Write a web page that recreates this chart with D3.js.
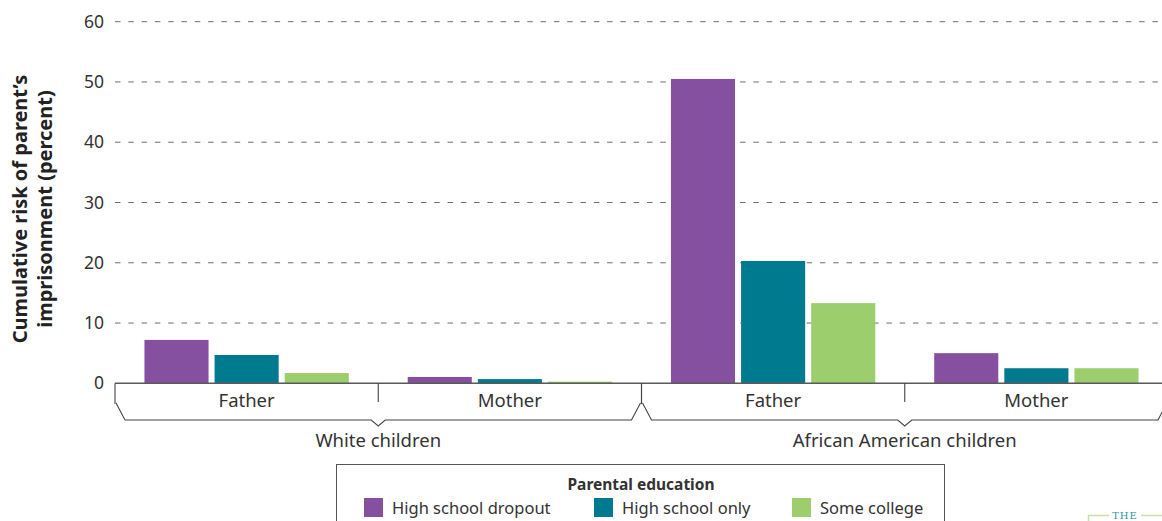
<!DOCTYPE html>
<html>
<head>
<meta charset="utf-8">
<script src="https://cdn.jsdelivr.net/npm/d3@7"></script>
<style>
  html, body { margin: 0; padding: 0; background: #fff; }
  svg { display: block; font-family: "Noto Sans", "Open Sans", sans-serif; }
</style>
</head>
<body>
<svg id="chart" width="1162" height="521"></svg>
<script>
// ---- Data ----
const groups = ["White children", "African American children"];
const parents = ["Father", "Mother"];
const seriesNames = ["High school dropout", "High school only", "Some college"];
const seriesColors = ["#8650a0", "#007a8f", "#9dce6e"];
// values per group -> parent -> series
const whiteFather = [7.2, 4.7, 1.7];
const whiteMother = [1.05, 0.7, 0.27];
const aaFather = [50.5, 20.3, 13.3];
const aaMother = [5.0, 2.5, 2.5];
const yTicks = [0, 10, 20, 30, 40, 50, 60];
const yTitleLines = ["Cumulative risk of parent\u2019s", "imprisonment (percent)"];
const legendTitle = "Parental education";

const dataTable = [
  { group: groups[0], parent: parents[0], values: whiteFather },
  { group: groups[0], parent: parents[1], values: whiteMother },
  { group: groups[1], parent: parents[0], values: aaFather },
  { group: groups[1], parent: parents[1], values: aaMother }
];

// ---- Layout ----
const svg = d3.select("#chart");
const left = 115, right = 1168, baseY = 383.3, topY = 21.7;

const x0 = d3.scaleBand().domain(groups).range([left, right]).padding(0);
const x1 = d3.scaleBand().domain(parents).range([0, x0.bandwidth()]).padding(0);
const x2 = d3.scaleBand().domain(seriesNames).range([0, x1.bandwidth()])
  .paddingInner(0.086).paddingOuter(0.42);
const y = d3.scaleLinear().domain([0, 60]).range([baseY, topY]);
const color = d3.scaleOrdinal().domain(seriesNames).range(seriesColors);

// gridlines
svg.append("g").selectAll("line")
  .data(yTicks.filter(d => d > 0))
  .join("line")
  .attr("x1", left).attr("x2", 1162)
  .attr("y1", d => y(d)).attr("y2", d => y(d))
  .attr("stroke", "#6e6e6e").attr("stroke-width", 1)
  .attr("stroke-dasharray", "5.5,7.8");

// y axis labels
const yAxis = d3.axisLeft(y).tickValues(yTicks).tickSize(0).tickPadding(11);
const yg = svg.append("g").attr("transform", `translate(${left},0)`).call(yAxis);
yg.select(".domain").remove();
yg.selectAll("text").attr("font-size", 17.5).attr("fill", "#333")
  .attr("font-family", "Noto Sans, sans-serif");

// bars
const cells = svg.append("g").selectAll("g.cell")
  .data(dataTable).join("g")
  .attr("transform", d => `translate(${x0(d.group) + x1(d.parent)},0)`);
cells.selectAll("rect")
  .data(d => d.values.map((v, i) => ({ name: seriesNames[i], value: v })))
  .join("rect")
  .attr("x", d => x2(d.name))
  .attr("width", x2.bandwidth())
  .attr("y", d => y(d.value))
  .attr("height", d => baseY - y(d.value))
  .attr("fill", d => color(d.name));

// baseline
svg.append("line").attr("x1", left).attr("x2", 1162)
  .attr("y1", baseY).attr("y2", baseY)
  .attr("stroke", "#5a5a5a").attr("stroke-width", 1.6);

// category ticks & brackets
const axisG = svg.append("g").attr("fill", "none").attr("stroke", "#444").attr("stroke-width", 1.1);
const tickBottom = 404, brY = 420, vTip = 426;
groups.forEach(g => {
  const gx0 = x0(g), gx1 = x0(g) + x0.bandwidth(), cx = (gx0 + gx1) / 2;
  axisG.append("line").attr("x1", gx0).attr("x2", gx0).attr("y1", baseY).attr("y2", tickBottom);
  axisG.append("line").attr("x1", gx1).attr("x2", gx1).attr("y1", baseY).attr("y2", tickBottom);
  const mid = gx0 + x1("Mother");
  axisG.append("line").attr("x1", mid).attr("x2", mid).attr("y1", baseY).attr("y2", 402);
  axisG.append("path").attr("d",
    `M${gx0 + 1},${tickBottom - 1} L${gx0 + 10},${brY} L${cx - 7},${brY} L${cx},${vTip} L${cx + 7},${brY} L${gx1 - 10},${brY} L${gx1 - 1},${tickBottom - 1}`);
});

// parent labels
svg.append("g").selectAll("text")
  .data(dataTable).join("text")
  .attr("x", d => x0(d.group) + x1(d.parent) + x1.bandwidth() / 2)
  .attr("y", 407)
  .attr("text-anchor", "middle")
  .attr("font-size", 18.5).attr("fill", "#333")
  .text(d => d.parent);

// group labels
svg.append("g").selectAll("text")
  .data(groups).join("text")
  .attr("x", d => x0(d) + x0.bandwidth() / 2)
  .attr("y", 447)
  .attr("text-anchor", "middle")
  .attr("font-size", 18.5).attr("fill", "#333")
  .text(d => d);

// y title
const yt = svg.append("text")
  .attr("transform", "translate(0,209) rotate(-90)")
  .attr("text-anchor", "middle")
  .attr("font-size", 20).attr("font-weight", "bold").attr("fill", "#222");
yt.selectAll("tspan").data(yTitleLines).join("tspan")
  .attr("x", 0).attr("y", (d, i) => 27 + i * 25)
  .text(d => d);

// legend
const lg = svg.append("g");
lg.append("rect").attr("x", 336.5).attr("y", 464.5).attr("width", 608).attr("height", 80)
  .attr("fill", "#fff").attr("stroke", "#555").attr("stroke-width", 1);
lg.append("text").attr("x", 641).attr("y", 490).attr("text-anchor", "middle")
  .attr("font-size", 15.5).attr("font-weight", "bold").attr("fill", "#333").text(legendTitle);
const legX = [364, 594, 792];
const items = lg.selectAll("g.item").data(seriesNames).join("g")
  .attr("transform", (d, i) => `translate(${legX[i]},498)`);
items.append("rect").attr("width", 19).attr("height", 19).attr("fill", d => color(d));
items.append("text").attr("x", 28).attr("y", 16).attr("font-size", 16.5).attr("fill", "#333").text(d => d);

// logo fragment
const logo = svg.append("g");
logo.append("path").attr("d", "M1088.5,521 L1088.5,515.5 L1109,515.5").attr("fill", "none")
  .attr("stroke", "#c8e2a6").attr("stroke-width", 1.5);
logo.append("path").attr("d", "M1141,515.5 L1162,515.5").attr("fill", "none")
  .attr("stroke", "#c8e2a6").attr("stroke-width", 1.5);
logo.append("text").attr("x", 1125).attr("y", 519).attr("text-anchor", "middle")
  .attr("font-family", "DejaVu Serif, Liberation Serif, serif")
  .attr("font-size", 10).attr("letter-spacing", 1).attr("fill", "#2a9a9a").text("THE");
</script>
</body>
</html>
